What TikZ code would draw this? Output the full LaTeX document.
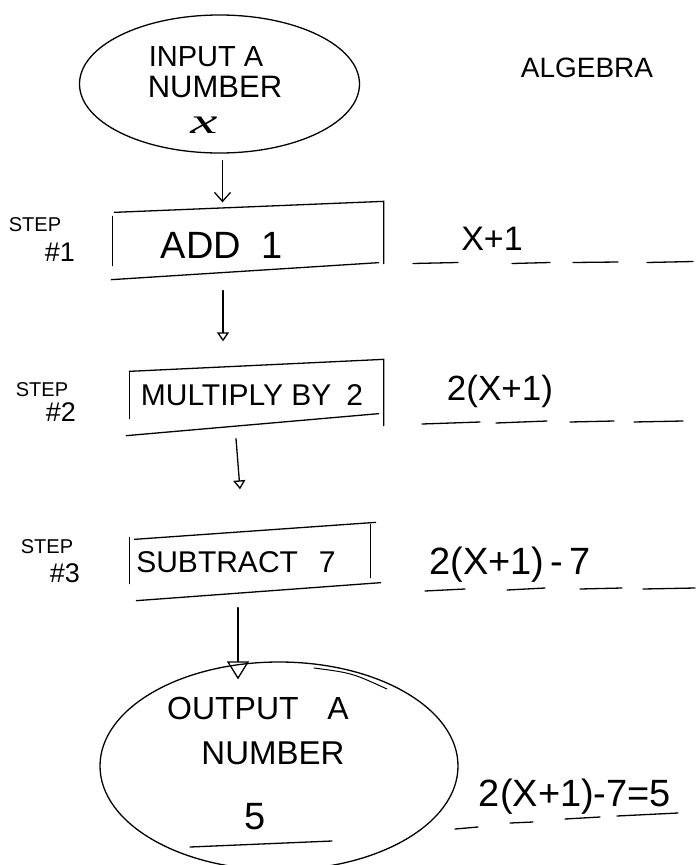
\documentclass[tikz,border=0pt]{standalone}
\usepackage{fontspec}
\setmainfont{Liberation Sans}
\newfontfamily\serifit{Liberation Serif}
\usetikzlibrary{shapes.geometric,arrows.meta,calc}
\begin{document}
\begin{tikzpicture}[x=1pt,y=-1pt,
  line width=1.3pt, line cap=round,
  stepbox/.style={rectangle, inner sep=0pt},
  oval/.style={draw, ellipse, inner sep=0pt},
  lbl/.style={inner sep=0pt, anchor=center},
  barb/.style={-{Straight Barb[length=9pt,width=16pt]}},
  tri/.style={-{Triangle[open,length=9pt,width=12pt]}},
  bigtri/.style={-{Triangle[open,length=18pt,width=22pt]}},
  fs/.style={font=\fontsize{#1}{#1}\selectfont}
]
\useasboundingbox (0,0) rectangle (697,865);
% input oval
\node[oval, minimum width=280pt, minimum height=138pt] (in) at (219.5,84) {};
\node[lbl, fs=29] (in1) at (206,57) {INPUT A};
\node[lbl, fs=31] (in2) at (215,87) {NUMBER};
\node[lbl, fs=36, xscale=1.7] (in3) at (204,125) {\serifit\itshape x};
\node[lbl, fs=28] (alg) at (587,68) {ALGEBRA};
% step labels
\node[lbl, fs=20] (s1a) at (35,225) {STEP};
\node[lbl, fs=27] (s1b) at (60,252) {\#1};
\node[lbl, fs=20] (s2a) at (42,390) {STEP};
\node[lbl, fs=27] (s2b) at (61,412) {\#2};
\node[lbl, fs=20] (s3a) at (47,547) {STEP};
\node[lbl, fs=27] (s3b) at (65,573) {\#3};
% box 1
\node[stepbox, minimum width=270pt, minimum height=64pt] (b1) at (248,239) {};
\draw ($(b1.north west)+(2,6)$) -- ($(b1.north east)+(0,-5)$) -- ($(b1.south east)+(0,-8)$);
\draw ($(b1.north west)+(0,10)$) -- ($(b1.south west)+(0,-6)$);
\draw ($(b1.south west)+(-1,8)$) -- ($(b1.south east)+(-5,-9)$);
\node[lbl, fs=38] (t1) at (222,245) {ADD\hspace{0.55em}1};
% box 2
\node[stepbox, minimum width=254pt, minimum height=58pt] (b2) at (256,395) {};
\draw ($(b2.north west)+(1,6)$) -- ($(b2.north east)+(0,-6)$) -- ($(b2.south east)+(0,1)$);
\draw ($(b2.north west)+(1,6)$) -- ($(b2.south west)+(1,-6)$);
\draw ($(b2.south west)+(-2,11)$) -- ($(b2.south east)+(-5,-11)$);
\node[lbl, fs=30] (t2) at (252,395) {MULTIPLY BY\hspace{0.5em}2};
% box 3
\node[stepbox, minimum width=242pt, minimum height=58pt] (b3) at (251,562) {};
\draw ($(b3.north west)+(5,7)$) -- ($(b3.north east)+(3,-10)$);
\draw ($(b3.north west)+(0,5)$) -- ($(b3.south west)+(0,-8)$);
\draw ($(b3.north east)+(-2,-8)$) -- ($(b3.south east)+(-2,-14)$);
\draw ($(b3.south west)+(7,9)$) -- ($(b3.south east)+(8,-9)$);
\node[lbl, fs=30] (t3) at (236,562) {SUBTRACT\hspace{0.7em}7};
% output oval
\node[oval, minimum width=358pt, minimum height=208pt] (out) at (279,766) {};
\draw[line width=1pt] (314,668) .. controls (352,673) .. (387,689);
\node[lbl, fs=32] (o1) at (258,708) {OUTPUT\hspace{0.9em}A};
\node[lbl, fs=33] (o2) at (273,753) {NUMBER};
\node[lbl, fs=38] (o3) at (255,817) {5};
\draw (190,847) -- (332,841);
% algebra column
\node[lbl, fs=34] (a1) at (492,239) {X+1};
\draw (413,263.5) -- (458,262.5);
\draw (512,263.5) -- (550,262.5);
\draw (573,262.5) -- (618,262);
\draw (647,262.5) -- (693,261.5);
\node[lbl, fs=35] (a2) at (500,391) {2(X+1)};
\draw (422,424) -- (480,422);
\draw (496,423) -- (547,421);
\draw (570,422) -- (614,421);
\draw (634,422) -- (683,421);
\node[lbl, fs=38] (a3) at (510,565) {2(X+1)\,-\,7};
\draw (425,591) -- (465,589);
\draw (507,590) -- (545,588);
\draw (580,589) -- (622,588);
\draw (643,589) -- (695,588);
\node[lbl, fs=38] (a4) at (575,797) {2(X+1)-7=5};
\draw (455,829) -- (478,827);
\draw (510,823) -- (533,822);
\draw (565,819) -- (600,817);
\draw (617,816) -- (678,813);
% connectors
\draw[barb] ($(in.south)+(3,7)$) -- ($(in.south |- b1.north)+(3,-4)$);
\draw[tri] ($(b1.south)+(-25,19)$) -- ($(b1.south |- b2.north)+(-25,-24)$);
\draw[tri] ($(b2.south)+(-20,14)$) -- ($(b3.north)+(-11,-43)$);
\draw[bigtri] ($(b3.south)+(-13,16)$) -- ($(out.north)+(-41,18)$);
\end{tikzpicture}
\end{document}
